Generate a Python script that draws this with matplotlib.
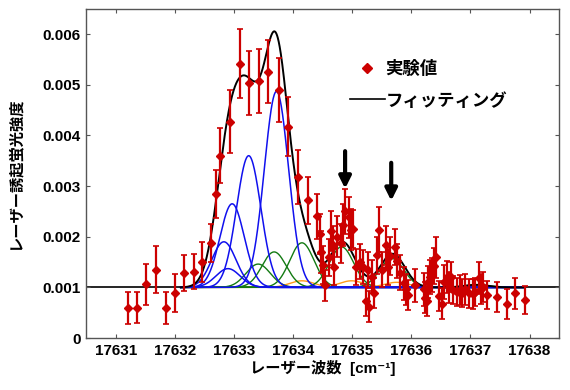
import numpy as np
import matplotlib
matplotlib.use("Agg")
import matplotlib.pyplot as plt
from matplotlib.lines import Line2D
from matplotlib.ticker import FixedLocator, FuncFormatter

FAMILY = ['Liberation Sans', 'Noto Sans CJK JP', 'DejaVu Sans']
plt.rcParams['font.family'] = FAMILY
plt.rcParams['font.weight'] = 'bold'

# ---- experimental data ----
wn = [17631.21, 17631.36, 17631.51, 17631.68, 17631.85, 17632.00, 17632.16, 17632.32,
      17632.46, 17632.62, 17632.69, 17632.77, 17632.94, 17633.10, 17633.26, 17633.42,
      17633.58, 17633.76, 17633.92, 17634.09, 17634.26, 17634.41, 17634.45, 17634.48,
      17634.51, 17634.54, 17634.61, 17634.65, 17634.68, 17634.70, 17634.74, 17634.81,
      17634.85, 17634.87, 17634.94, 17634.98, 17635.01, 17635.07, 17635.13, 17635.19,
      17635.23, 17635.26, 17635.29, 17635.33, 17635.37, 17635.42, 17635.46, 17635.50,
      17635.57, 17635.60, 17635.64, 17635.73, 17635.75, 17635.81, 17635.87, 17635.91,
      17635.94, 17636.06, 17636.22, 17636.23, 17636.26, 17636.28, 17636.31, 17636.35,
      17636.39, 17636.42, 17636.46, 17636.52, 17636.56, 17636.60, 17636.63, 17636.67,
      17636.71, 17636.77, 17636.82, 17636.86, 17636.91, 17636.97, 17637.04, 17637.08,
      17637.14, 17637.17, 17637.22, 17637.28, 17637.45, 17637.62, 17637.76, 17637.93]
lif = [0.00059, 0.00060, 0.00106, 0.00135, 0.00059, 0.00089, 0.00128, 0.00131,
       0.00150, 0.00188, 0.00284, 0.00360, 0.00427, 0.00542, 0.00504, 0.00507,
       0.00526, 0.00490, 0.00417, 0.00318, 0.00272, 0.00240, 0.00205, 0.00170,
       0.00144, 0.00104, 0.00159, 0.00211, 0.00183, 0.00140, 0.00200, 0.00187,
       0.00223, 0.00250, 0.00238, 0.00214, 0.00215, 0.00140, 0.00151, 0.00140,
       0.00073, 0.00134, 0.00062, 0.00121, 0.00089, 0.00163, 0.00214, 0.00135,
       0.00183, 0.00140, 0.00162, 0.00180, 0.00152, 0.00129, 0.00108, 0.00096,
       0.00085, 0.00104, 0.00096, 0.00080, 0.00073, 0.00111, 0.00121, 0.00124,
       0.00142, 0.00159, 0.00083, 0.00068, 0.00111, 0.00121, 0.00100, 0.00121,
       0.00095, 0.00091, 0.00095, 0.00089, 0.00096, 0.00088, 0.00087, 0.00091,
       0.00118, 0.00097, 0.00101, 0.00085, 0.00081, 0.00067, 0.00088, 0.00075]
lif_err = [0.00031, 0.00031, 0.00041, 0.00046, 0.00031, 0.00037, 0.00036, 0.00035,
           0.00039, 0.00038, 0.00047, 0.00054, 0.00062, 0.00068, 0.00063, 0.00063,
           0.00062, 0.00063, 0.00058, 0.00053, 0.00046, 0.00044, 0.00040, 0.00042,
           0.00038, 0.00030, 0.00036, 0.00040, 0.00038, 0.00035, 0.00040, 0.00038,
           0.00042, 0.00045, 0.00040, 0.00040, 0.00038, 0.00035, 0.00035, 0.00033,
           0.00030, 0.00035, 0.00030, 0.00033, 0.00030, 0.00036, 0.00044, 0.00034,
           0.00038, 0.00035, 0.00038, 0.00036, 0.00034, 0.00034, 0.00032, 0.00030,
           0.00030, 0.00032, 0.00032, 0.00030, 0.00030, 0.00032, 0.00034, 0.00034,
           0.00036, 0.00040, 0.00030, 0.00030, 0.00034, 0.00032, 0.00030, 0.00030,
           0.00028, 0.00028, 0.00030, 0.00028, 0.00030, 0.00028, 0.00030, 0.00028,
           0.00032, 0.00030, 0.00030, 0.00028, 0.00030, 0.00030, 0.00030, 0.00028]

# ---- fit components (Gaussians on a constant background) ----
background = 0.001
sigma = 0.205
blue_centers = [17632.83, 17632.90, 17632.97, 17633.25, 17633.72]
blue_amps = [0.00090, 0.00037, 0.00165, 0.00260, 0.00387]
green_centers = [17633.41, 17633.68, 17634.15, 17634.82, 17635.67, 17637.10]
green_amps = [0.00046, 0.00070, 0.00088, 0.00080, 0.00057, 0.00005]
orange_centers = [17634.15, 17634.99, 17635.75]
orange_amps = [0.00013, 0.00013, 0.00010]

arrow_x = [17634.88, 17635.66]
arrow_tail = [0.00369, 0.00346]
arrow_tip = [0.00295, 0.00271]

xticks = [17631, 17632, 17633, 17634, 17635, 17636, 17637, 17638]
yticks = [0, 0.001, 0.002, 0.003, 0.004, 0.005, 0.006]

fig = plt.figure(figsize=(5.7, 3.9), dpi=100)
ax = fig.add_axes([0.151, 0.1333, 0.830, 0.844])

xs = np.linspace(17630.5, 17638.5, 2000)


def gauss(c, a):
    return a * np.exp(-0.5 * ((xs - c) / sigma) ** 2)


ax.axhline(background, color='black', lw=1.2, zorder=1)
mask = (xs > 17632.1) & (xs < 17637.9)
total = np.full_like(xs, background)
for c, a in zip(orange_centers, orange_amps):
    g = gauss(c, a)
    total += g
    ax.plot(xs[mask], (background + g)[mask], color='#ff9a1a', lw=1.0, zorder=2)
for c, a in zip(green_centers, green_amps):
    g = gauss(c, a)
    total += g
    ax.plot(xs[mask], (background + g)[mask], color='#127a12', lw=1.0, zorder=2)
for c, a in zip(blue_centers, blue_amps):
    g = gauss(c, a)
    total += g
    ax.plot(xs[mask], (background + g)[mask], color='#1010ee', lw=1.1, zorder=3)
ax.plot(xs[mask], total[mask], color='black', lw=1.4, zorder=4)

ax.errorbar(wn, lif, yerr=lif_err, fmt='D', color='#cc0000', ecolor='#cc0000',
            ms=4.5, elinewidth=1.6, capsize=2.5, capthick=1.2, zorder=5)

for x, t0, t1 in zip(arrow_x, arrow_tail, arrow_tip):
    ax.annotate('', xy=(x, t1), xytext=(x, t0),
                arrowprops=dict(arrowstyle='-|>,head_width=0.35,head_length=0.7',
                                lw=3, color='black', shrinkA=0, shrinkB=0), zorder=6)

ax.set_xlim(17630.5, 17638.5)
ax.set_ylim(0, 0.0065)
ax.xaxis.set_major_locator(FixedLocator(xticks))
ax.yaxis.set_major_locator(FixedLocator(yticks))
ax.xaxis.set_major_formatter(FuncFormatter(lambda v, p: f"{v:.0f}"))
ax.yaxis.set_major_formatter(FuncFormatter(lambda v, p: "0" if v == 0 else f"{v:.3f}"))
ax.tick_params(direction='in', top=True, right=True, length=3, width=0.8,
               color='#555555', labelsize=11, pad=4)
for lbl in ax.get_xticklabels() + ax.get_yticklabels():
    lbl.set_fontweight('bold')
for s in ax.spines.values():
    s.set_color('#555555')
    s.set_linewidth(1.0)

ax.set_xlabel('レーザー波数  [cm\u207b\u00b9]', fontsize=11, fontweight='bold',
              labelpad=2, family=FAMILY)
ax.set_ylabel('レーザー誘起蛍光強度', fontsize=11, fontweight='bold', labelpad=14,
              family=FAMILY)

handles = [Line2D([], [], marker='D', color='#cc0000', ls='none', ms=5),
           Line2D([], [], color='black', lw=1.2)]
leg = ax.legend(handles, ['実験値', 'フィッティング'], loc='upper left',
                bbox_to_anchor=(350 / 570, 1 - 60 / 390), bbox_transform=fig.transFigure,
                frameon=False, fontsize=12.5, handlelength=2.0, handletextpad=0.05,
                labelspacing=0.85, borderpad=0, borderaxespad=0)
for t in leg.get_texts():
    t.set_fontweight('bold')

fig.savefig('out.png', dpi=100)
